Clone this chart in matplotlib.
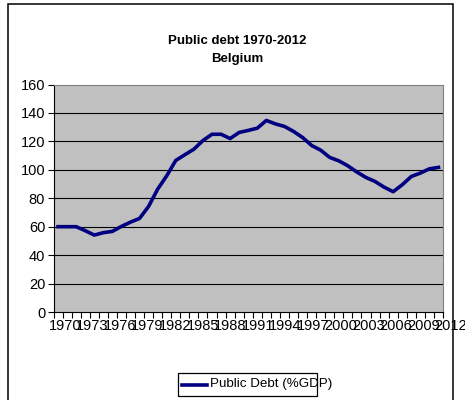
import matplotlib
matplotlib.use("Agg")
import matplotlib.pyplot as plt
from matplotlib.patches import Rectangle
from matplotlib.lines import Line2D
import matplotlib.transforms as mtransforms

plt.rcParams['font.family'] = ['Liberation Sans', 'DejaVu Sans']

years = list(range(1970, 2013))
debt = [60.0, 60.0, 60.0, 57.2, 54.1, 55.8, 56.7, 60.2, 63.2, 65.8,
        74.3, 86.4, 95.8, 106.6, 110.6, 114.5, 120.6, 125.0, 125.0, 122.0,
        126.3, 127.7, 129.3, 134.7, 132.3, 130.5, 127.0, 122.7, 117.1, 113.8,
        108.7, 106.3, 102.8, 98.4, 94.6, 91.8, 87.8, 84.6, 89.5, 95.3,
        97.7, 100.7, 101.7]
tick_labels = ["1970", "1973", "1976", "1979", "1982", "1985", "1988", "1991",
               "1994", "1997", "2000", "2003", "2006", "2009", "2012"]
y_ticks = [0, 20, 40, 60, 80, 100, 120, 140, 160]
series_name = "Public Debt (%GDP)"
title_lines = ["Public debt 1970-2012", "Belgium"]

W, H = 465, 400
fig = plt.figure(figsize=(W / 100, H / 100), dpi=100)
fig.patch.set_facecolor("white")

# plot area in pixels
L, R, T, B = 53.5, 443, 84.5, 312
ax = fig.add_axes([L / W, (H - B) / H, (R - L) / W, (B - T) / H])
ax.set_facecolor("#C0C0C0")

x = list(range(len(years)))
ax.plot(x, debt, color="#000080", lw=2.6, solid_joinstyle="round", zorder=3)

ax.set_xlim(-0.5, len(years) - 0.5)
ax.set_ylim(0, 160)
ax.set_yticks(y_ticks)
ax.set_yticklabels([str(v) for v in y_ticks], fontsize=10.5)
for v in y_ticks[1:-1]:
    ax.axhline(v, color="black", lw=0.8, zorder=1)

# category boundary ticks
ax.set_xticks([i - 0.5 for i in range(len(years) + 1)])
ax.set_xticklabels([])
ax.tick_params(axis="x", direction="out", length=4, width=0.8, color="black")
ax.tick_params(axis="y", direction="out", length=4, width=0.8, color="black", pad=2)

for s in ["top", "right"]:
    ax.spines[s].set_color("#808080")
    ax.spines[s].set_linewidth(0.8)
for s in ["left", "bottom"]:
    ax.spines[s].set_color("black")
    ax.spines[s].set_linewidth(0.8)

trans = mtransforms.blended_transform_factory(ax.transData, fig.transFigure)
for k, lab in enumerate(tick_labels):
    idx = years.index(int(lab))
    xpos = idx * 1.015 + 0.75
    ax.text(xpos, (H - 326) / H, lab, transform=trans, ha="center", va="center",
            fontsize=10.5, clip_on=False)

# titles
fig.text(237.5 / W, 1 - 41 / H, title_lines[0], ha="center", va="center",
         fontsize=9.5, fontweight="bold")
fig.text(237.5 / W, 1 - 59 / H, title_lines[1], ha="center", va="center",
         fontsize=9.5, fontweight="bold")

# outer chart border
fig.add_artist(Rectangle((8 / W, -0.02), (453 - 8) / W, 0.02 + (H - 4) / H,
                         transform=fig.transFigure, fill=False,
                         edgecolor="black", lw=1.1, clip_on=False))

# legend
fig.add_artist(Rectangle((178 / W, (H - 396) / H), (317 - 178) / W, 23 / H,
                         transform=fig.transFigure, fill=False,
                         edgecolor="black", lw=0.9))
ly = (H - 384.5) / H
fig.add_artist(Line2D([182 / W, 207 / W], [ly, ly], transform=fig.transFigure,
                      color="#000080", lw=2.6))
fig.text(210 / W, ly, series_name, ha="left", va="center", fontsize=9.6)

fig.savefig("out.png", dpi=100)
